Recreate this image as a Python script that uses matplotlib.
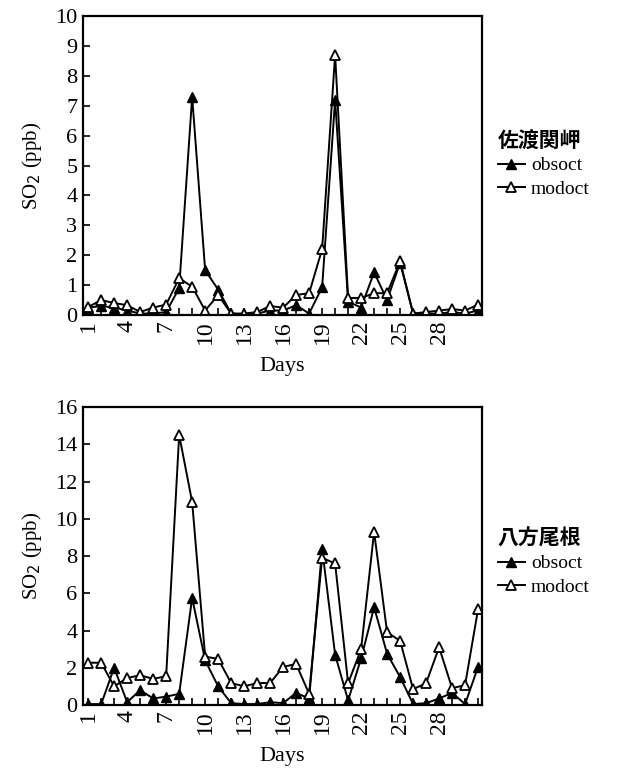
import matplotlib
matplotlib.use('Agg')
import matplotlib.pyplot as plt
import numpy as np

# days of October
days = np.arange(1, 32)

# 佐渡関岬
sado_obs = [0.25, 0.30, 0.25, 0.15, 0.05, 0.05, 0.10, 0.90, 7.30, 1.50,
            0.85, 0.05, 0.02, 0.05, 0.15, 0.15, 0.33, 0.05, 0.93, 7.20,
            0.45, 0.25, 1.43, 0.50, 1.75, 0.05, 0.05, 0.05, 0.10, 0.05, 0.15]
sado_mod = [0.27, 0.50, 0.40, 0.33, 0.10, 0.25, 0.35, 1.23, 0.95, 0.15,
            0.67, 0.05, 0.05, 0.10, 0.30, 0.25, 0.67, 0.73, 2.20, 8.70,
            0.57, 0.57, 0.73, 0.73, 1.80, 0.05, 0.10, 0.15, 0.20, 0.15, 0.35]

# 八方尾根
happo_obs = [0.05, 0.05, 2.00, 0.15, 0.80, 0.35, 0.45, 0.60, 5.75, 2.40,
             1.00, 0.10, 0.05, 0.05, 0.15, 0.10, 0.65, 0.35, 8.40, 2.70,
             0.25, 2.50, 5.25, 2.75, 1.50, 0.05, 0.10, 0.35, 0.65, 0.05, 2.05]
happo_mod = [2.27, 2.27, 1.00, 1.45, 1.60, 1.40, 1.55, 14.50, 10.90, 2.60,
             2.47, 1.18, 1.00, 1.18, 1.18, 2.05, 2.20, 0.60, 7.90, 7.60,
             1.17, 3.00, 9.30, 3.90, 3.45, 0.85, 1.17, 3.10, 0.90, 1.07, 5.15]

label_days = list(range(1, 29, 3))

serif = ['Liberation Serif', 'DejaVu Serif']
jp = ['Noto Sans CJK JP', 'DejaVu Sans']

fig = plt.figure(figsize=(6.22, 7.71), dpi=100)
ax_top = fig.add_axes([0.1334, 0.5914, 0.6415, 0.3878])
ax_bot = fig.add_axes([0.1334, 0.0856, 0.6415, 0.3865])


def draw_panel(ax, obs, mod, ymax, ystep, site, leg_y):
    ax.plot(days, obs, color='black', linewidth=1.4, marker='^', markersize=7,
            markerfacecolor='black', markeredgecolor='black', label='obsoct')
    ax.plot(days, mod, color='black', linewidth=1.4, marker='^', markersize=7,
            markerfacecolor='white', markeredgecolor='black', markeredgewidth=1.3,
            label='modoct')

    ax.set_xlim(0.6, 31.3)
    ax.set_ylim(0, ymax)
    yt = np.arange(0, ymax + 0.1, ystep)
    ax.set_yticks(yt)
    ax.set_yticklabels([f'{v:g}' for v in yt], fontsize=16, family=serif)
    ax.set_xticks(days)
    ax.set_xticklabels([str(d) if d in label_days else '' for d in days],
                       rotation=90, fontsize=17, family=serif)
    ax.tick_params(axis='both', direction='in', length=5, width=1.2, pad=4)
    for sp in ax.spines.values():
        sp.set_linewidth(1.6)

    ax.set_xlabel('Days', fontsize=16, family=serif, labelpad=9)
    ax.set_ylabel('SO$_2$ (ppb)', fontsize=15, family=serif, labelpad=8)

    leg = ax.legend(loc='upper left', bbox_to_anchor=(1.02, leg_y), frameon=False,
                    prop={'family': serif, 'size': 14}, handlelength=1.4,
                    handletextpad=0.3, labelspacing=0.3, borderaxespad=0)
    leg.set_title(site, prop={'family': jp, 'size': 15, 'weight': 'bold'})
    leg._legend_box.align = 'left'


draw_panel(ax_top, sado_obs, sado_mod, 10, 1, '佐渡関岬', 0.645)
draw_panel(ax_bot, happo_obs, happo_mod, 16, 2, '八方尾根', 0.62)

plt.savefig('out.png', dpi=100, facecolor='white', edgecolor='none')
plt.close()
